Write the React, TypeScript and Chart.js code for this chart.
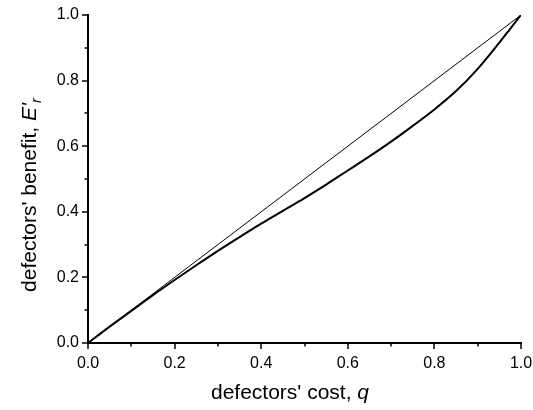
import React, { useEffect, useRef } from "react";
import { Chart, registerables } from "chart.js";

Chart.register(...registerables);

// Curve: defectors' benefit E'_r vs defectors' cost q
const qValues = [0, 0.05, 0.1, 0.15, 0.2, 0.25, 0.3, 0.35, 0.4, 0.45, 0.5, 0.55, 0.6, 0.65, 0.7, 0.75, 0.8, 0.85, 0.9, 0.95, 0.975, 1.0];
const benefitValues = [0, 0.05, 0.098, 0.146, 0.192, 0.237, 0.281, 0.323, 0.364, 0.403, 0.442, 0.483, 0.526, 0.569, 0.614, 0.662, 0.712, 0.768, 0.836, 0.916, 0.958, 1.0];
// Reference diagonal E'_r = q
const diagonalQ = [0, 1];
const diagonalValues = [0, 1];
// Axis ticks
const majorTicks = [0, 0.2, 0.4, 0.6, 0.8, 1.0];
const minorTicks = [0.1, 0.3, 0.5, 0.7, 0.9];

const FONT = '"Liberation Sans", Arial, sans-serif';

const tickMarksPlugin = {
  id: "tickMarks",
  afterDraw(chart: any) {
    const { ctx, chartArea } = chart;
    const xs = chart.scales.x;
    const ys = chart.scales.y;
    ctx.save();
    ctx.strokeStyle = "#000";
    ctx.lineWidth = 1.5;
    const draw = (vals: number[], len: number) => {
      vals.forEach((v) => {
        const px = Math.round(xs.getPixelForValue(v));
        ctx.beginPath();
        ctx.moveTo(px, chartArea.bottom);
        ctx.lineTo(px, chartArea.bottom + len);
        ctx.stroke();
        const py = Math.round(ys.getPixelForValue(v));
        ctx.beginPath();
        ctx.moveTo(chartArea.left, py);
        ctx.lineTo(chartArea.left - len, py);
        ctx.stroke();
      });
    };
    draw(majorTicks, 6);
    draw(minorTicks, 3.5);
    ctx.restore();
  },
};

const titlesPlugin = {
  id: "axisTitles",
  afterDraw(chart: any) {
    const { ctx } = chart;
    ctx.save();
    ctx.fillStyle = "#000";
    ctx.textBaseline = "alphabetic";
    ctx.textAlign = "left";
    // x title
    const normal = `21px ${FONT}`;
    const italic = `italic 21px ${FONT}`;
    const sub = `italic 15px ${FONT}`;
    const xa = "defectors' cost, ";
    const xb = "q";
    ctx.font = normal;
    const wa = ctx.measureText(xa).width;
    ctx.font = italic;
    const wb = ctx.measureText(xb).width;
    const cx = 290;
    let x0 = cx - (wa + wb) / 2;
    ctx.font = normal;
    ctx.fillText(xa, x0, 399);
    ctx.font = italic;
    ctx.fillText(xb, x0 + wa, 399);

    // y title (rotated)
    const ya = "defectors' benefit, ";
    const yb = "E'";
    const yc = "r";
    ctx.font = normal;
    const w1 = ctx.measureText(ya).width;
    ctx.font = italic;
    const w2 = ctx.measureText(yb).width;
    ctx.font = sub;
    const w3 = ctx.measureText(yc).width;
    const total = w1 + w2 + w3;
    ctx.translate(36, 195);
    ctx.rotate(-Math.PI / 2);
    let s = -total / 2;
    ctx.font = normal;
    ctx.fillText(ya, s, 0);
    s += w1;
    ctx.font = italic;
    ctx.fillText(yb, s, 0);
    s += w2;
    ctx.font = sub;
    ctx.fillText(yc, s, 5);
    ctx.restore();
  },
};

export default function App() {
  const ref = useRef<HTMLCanvasElement | null>(null);
  useEffect(() => {
    if (!ref.current) return;
    const chart = new Chart(ref.current, {
      type: "scatter",
      data: {
        datasets: [
          {
            data: diagonalQ.map((q, i) => ({ x: q, y: diagonalValues[i] })),
            showLine: true,
            borderColor: "#000",
            borderWidth: 1,
            pointRadius: 0,
            fill: false,
          },
          {
            data: qValues.map((q, i) => ({ x: q, y: benefitValues[i] })),
            showLine: true,
            borderColor: "#000",
            borderWidth: 2,
            pointRadius: 0,
            cubicInterpolationMode: "monotone",
            fill: false,
          },
        ],
      },
      options: {
        animation: false,
        responsive: false,
        maintainAspectRatio: false,
        layout: { padding: { left: 0, right: 12, top: 15, bottom: 0 } },
        plugins: { legend: { display: false }, tooltip: { enabled: false } },
        scales: {
          x: {
            type: "linear",
            min: 0,
            max: 1,
            grid: { display: false, drawTicks: false },
            border: { display: true, color: "#000", width: 2 },
            afterFit: (s: any) => {
              s.height = 67;
              s.paddingLeft = 0;
              s.paddingRight = 0;
            },
            afterBuildTicks: (s: any) => {
              s.ticks = majorTicks.map((v) => ({ value: v }));
            },
            ticks: {
              color: "#000",
              padding: 11,
              maxRotation: 0,
              font: { family: FONT, size: 16 },
              callback: (v: any) => Number(v).toFixed(1),
            },
          },
          y: {
            type: "linear",
            min: 0,
            max: 1,
            grid: { display: false, drawTicks: false },
            border: { display: true, color: "#000", width: 2 },
            afterFit: (s: any) => {
              s.width = 88;
              s.paddingTop = 0;
              s.paddingBottom = 0;
            },
            afterBuildTicks: (s: any) => {
              s.ticks = majorTicks.map((v) => ({ value: v }));
            },
            ticks: {
              color: "#000",
              padding: 9,
              font: { family: FONT, size: 16 },
              callback: (v: any) => Number(v).toFixed(1),
            },
          },
        },
      },
      plugins: [tickMarksPlugin, titlesPlugin],
    });
    return () => chart.destroy();
  }, []);
  return (
    <div style={{ position: "fixed", left: 0, top: 0, width: 533, height: 410, background: "#fff" }}>
      <canvas ref={ref} width={533} height={410} style={{ width: 533, height: 410 }} />
    </div>
  );
}
